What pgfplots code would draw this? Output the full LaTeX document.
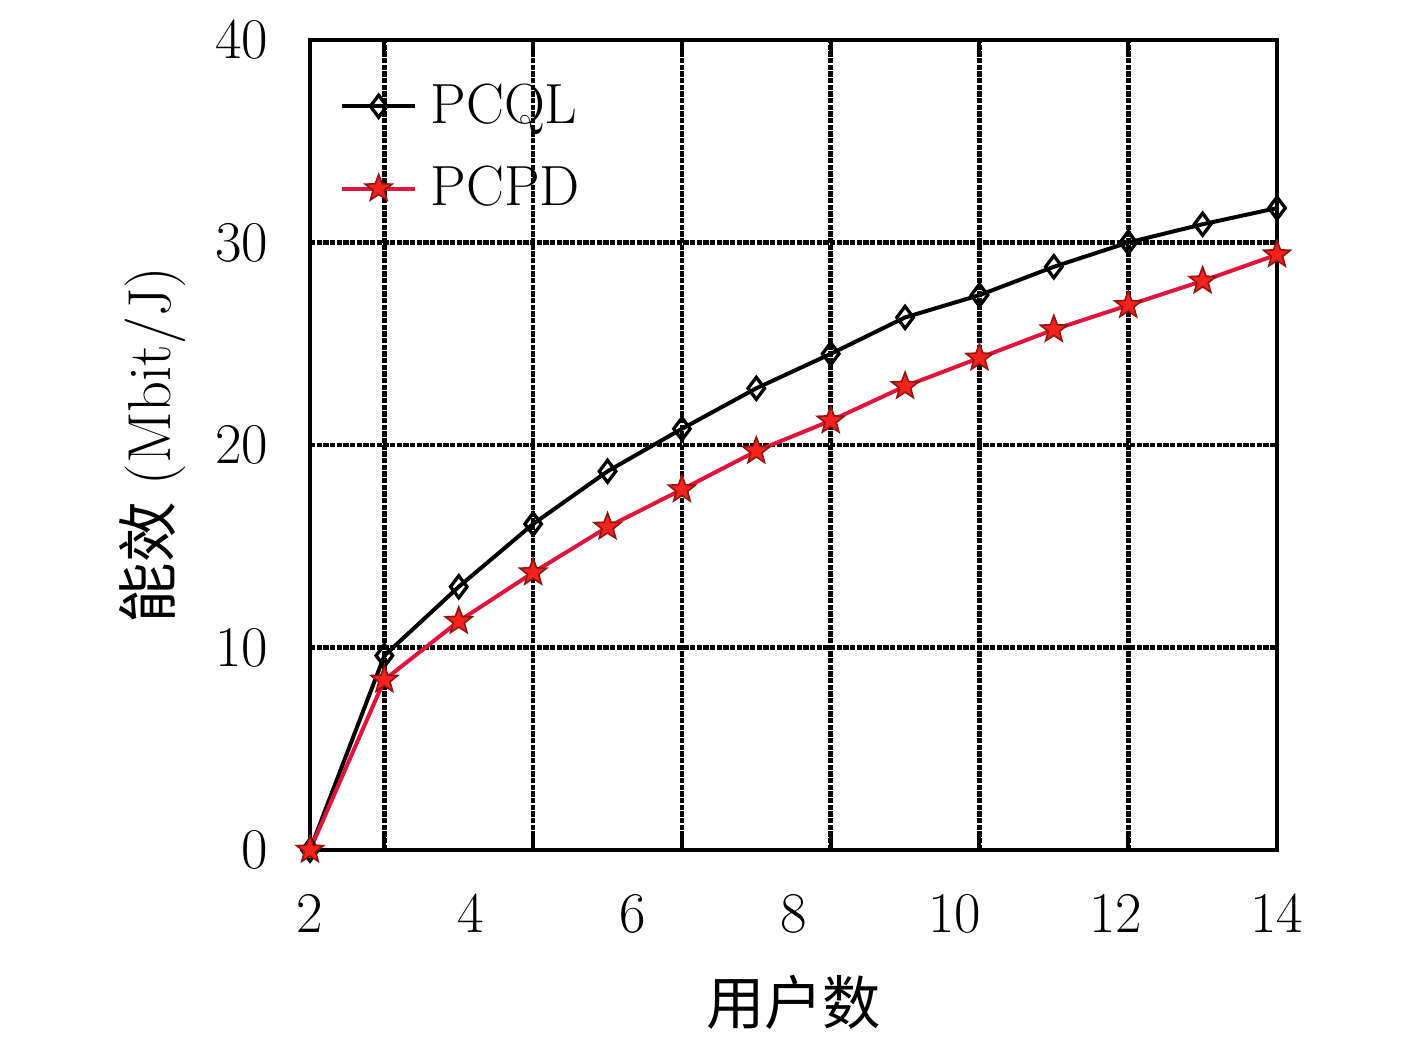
\documentclass[border=0pt]{standalone}
\usepackage{fontspec}
\usepackage{pgfplots}
\pgfplotsset{compat=1.18}
\newfontfamily\cjk{Noto Sans CJK SC}
\definecolor{pcpdline}{RGB}{225,20,60}
\definecolor{pcpdmark}{RGB}{245,35,30}
\pgfdeclareplotmark{fivestar}{%
  \pgfpathmoveto{\pgfpointpolar{90}{\pgfplotmarksize}}%
  \pgfpathlineto{\pgfpointpolar{126}{0.42\pgfplotmarksize}}%
  \pgfpathlineto{\pgfpointpolar{162}{\pgfplotmarksize}}%
  \pgfpathlineto{\pgfpointpolar{198}{0.42\pgfplotmarksize}}%
  \pgfpathlineto{\pgfpointpolar{234}{\pgfplotmarksize}}%
  \pgfpathlineto{\pgfpointpolar{270}{0.42\pgfplotmarksize}}%
  \pgfpathlineto{\pgfpointpolar{306}{\pgfplotmarksize}}%
  \pgfpathlineto{\pgfpointpolar{342}{0.42\pgfplotmarksize}}%
  \pgfpathlineto{\pgfpointpolar{18}{\pgfplotmarksize}}%
  \pgfpathlineto{\pgfpointpolar{54}{0.42\pgfplotmarksize}}%
  \pgfpathclose
  \pgfusepathqfillstroke
}
\begin{document}
\begin{tikzpicture}
\useasboundingbox (0,0) rectangle (425.1pt,312.3pt);
\begin{axis}[
  at={(93pt,57.3pt)}, anchor=south west,
  scale only axis, width=290.1pt, height=243pt,
  xmin=2, xmax=14, ymin=0, ymax=40,
  axis line style={line width=1.2pt},
  xtick={2,4,...,14},
  ytick={0,10,20,30,40},
  major tick length=0pt,
  extra x ticks={2.9231,4.7692,6.6154,8.4615,10.3077,12.1538},
  extra x tick labels={},
  extra x tick style={grid=major, major tick length=4pt,
     tick style={black, line width=1.2pt},
     major grid style={black, line width=1.4pt, dash pattern=on 1.6pt off 0.4pt}},
  ymajorgrids,
  major grid style={black, line width=1.4pt, dash pattern=on 1.6pt off 0.4pt},
  tick align=inside,
  ticklabel style={font=\fontsize{17}{20}\selectfont},
  xticklabel style={yshift=-10pt},
  yticklabel style={xshift=-9pt},
  xlabel={\cjk 用户数},
  ylabel={\cjk 能效\hspace{5pt}\rmfamily (Mbit/J)},
  xlabel style={font=\fontsize{17.5}{20}\selectfont, yshift=-6pt},
  ylabel style={font=\fontsize{18.2}{21}\selectfont, yshift=2pt},
  legend style={draw=none, fill=none, at={(0.02,0.963)}, anchor=north west,
    font=\fontsize{17}{20}\selectfont, row sep=7.3pt, nodes={inner xsep=4pt}},
  legend cell align=left,
  legend image code/.code={\draw[mark repeat=2,mark phase=2,#1] plot coordinates {(0pt,0pt) (11pt,0pt) (22pt,0pt)};},
]
\addplot[black, line width=1.2pt, mark=diamond, mark size=3.3pt, mark options={solid, line width=1pt, fill=white}] coordinates {
(2,0) (2.9231,9.6) (3.8462,13.0) (4.7692,16.1) (5.6923,18.7) (6.6154,20.8)
(7.5385,22.8) (8.4615,24.5) (9.3846,26.3) (10.3077,27.4) (11.2308,28.8)
(12.1538,30.0) (13.0769,30.9) (14,31.7)};
\addlegendentry{PCQL}
\addplot[pcpdline, line width=1.2pt, mark=fivestar, mark size=4.2pt, mark options={solid, fill=pcpdmark, draw=pcpdmark!60!black, line width=0.5pt}] coordinates {
(2,0) (2.9231,8.4) (3.8462,11.3) (4.7692,13.7) (5.6923,15.95) (6.6154,17.8)
(7.5385,19.7) (8.4615,21.2) (9.3846,22.9) (10.3077,24.3) (11.2308,25.7)
(12.1538,26.9) (13.0769,28.1) (14,29.4)};
\addlegendentry{PCPD}
\end{axis}
\end{tikzpicture}
\end{document}
